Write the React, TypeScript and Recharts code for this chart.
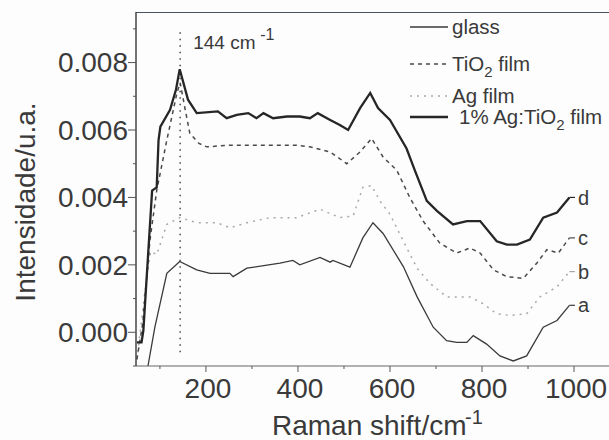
import {
  LineChart,
  Line,
  XAxis,
  YAxis,
  Legend,
  ReferenceLine,
  ReferenceDot,
} from "recharts";

// intensities are read in units of 0.001 (a.u.)
const aX = [74, 89, 115, 143, 180, 209, 252, 259, 289, 361, 389, 404, 448, 470, 476, 513, 541, 563, 585, 629, 659, 694, 723, 745, 767, 781, 810, 839, 868, 897, 933, 963, 990];
const aY = [-1.0, 0.15, 1.75, 2.1, 1.85, 1.75, 1.75, 1.65, 1.9, 2.05, 2.13, 2.0, 2.22, 2.08, 2.13, 1.93, 2.8, 3.25, 2.93, 1.95, 1.05, 0.15, -0.25, -0.3, -0.3, -0.1, -0.35, -0.7, -0.85, -0.7, 0.15, 0.35, 0.8];

const bX = [50, 70, 80, 93, 115, 143, 180, 224, 252, 289, 339, 397, 448, 491, 520, 541, 560, 578, 600, 629, 659, 687, 723, 774, 802, 832, 861, 897, 926, 963, 990];
const bY = [-0.8, 1.5, 2.4, 2.3, 3.2, 3.4, 3.25, 3.25, 3.1, 3.25, 3.4, 3.4, 3.65, 3.4, 3.45, 4.3, 4.35, 3.9, 3.5, 2.7, 1.9, 1.45, 1.05, 1.05, 0.85, 0.55, 0.5, 0.55, 1.05, 1.35, 1.8];

const cX = [50, 63, 78, 93, 115, 137, 144, 155, 165, 185, 202, 252, 325, 397, 426, 470, 506, 535, 560, 585, 615, 643, 672, 708, 745, 774, 796, 825, 854, 890, 919, 941, 966, 990];
const cY = [-0.8, 0.3, 2.7, 4.2, 5.7, 7.1, 7.4, 6.6, 5.9, 5.6, 5.5, 5.55, 5.55, 5.55, 5.5, 5.35, 5.0, 5.35, 5.75, 5.2, 4.8, 4.0, 3.3, 2.65, 2.35, 2.5, 2.35, 1.85, 1.65, 1.6, 2.05, 2.45, 2.35, 2.8];

const dX = [50, 60, 64, 83, 93, 97, 101, 122, 135, 143, 161, 180, 226, 245, 267, 292, 310, 325, 346, 376, 404, 426, 443, 470, 491, 509, 535, 557, 574, 600, 636, 654, 680, 702, 737, 767, 796, 832, 854, 876, 904, 933, 963, 990];
const dY = [-0.3, -0.3, 0.05, 4.2, 4.3, 5.7, 6.1, 6.6, 7.2, 7.8, 6.9, 6.5, 6.55, 6.35, 6.45, 6.5, 6.35, 6.5, 6.35, 6.4, 6.4, 6.35, 6.5, 6.3, 6.15, 6.0, 6.65, 7.1, 6.65, 6.3, 5.45, 4.8, 3.9, 3.6, 3.2, 3.3, 3.3, 2.7, 2.6, 2.6, 2.75, 3.4, 3.55, 4.0];

const X_TICKS = [100, 200, 300, 400, 500, 600, 700, 800, 900, 1000];
const Y_TICKS = [-1, 0, 1, 2, 3, 4, 5, 6, 7, 8, 9];
const X_DOMAIN: [number, number] = [48, 1076];
const Y_DOMAIN: [number, number] = [-1, 9.5];
const PEAK = 144;

const zip = (xs: number[], ys: number[]) => xs.map((x, i) => ({ x, y: ys[i] }));

const SERIES = [
  { key: "a", name: "glass", data: zip(aX, aY), stroke: "#3a3a3a", width: 1.3, dash: undefined as string | undefined },
  { key: "b", name: "Ag film", data: zip(bX, bY), stroke: "#a8a8a8", width: 1.5, dash: "2 5" },
  { key: "c", name: "TiO2 film", data: zip(cX, cY), stroke: "#4a4a4a", width: 1.5, dash: "4 4" },
  { key: "d", name: "1% Ag:TiO2 film", data: zip(dX, dY), stroke: "#262626", width: 2.3, dash: undefined },
];

const FONT = "'Liberation Sans', Arial, sans-serif";
const INK = "#3a3a3a";

function XTick({ x, y, payload }: any) {
  const v = payload.value;
  const major = v % 200 === 0;
  return (
    <g>
      <line x1={x} x2={x} y1={y} y2={y + (major ? 6 : 3)} stroke="#555" />
      {major && (
        <text x={x + 2} y={y + 12} dy="0.71em" textAnchor="middle" fontSize={28} fontFamily={FONT} fill={INK}>
          {v}
        </text>
      )}
    </g>
  );
}

function YTick({ x, y, payload }: any) {
  const v = payload.value;
  const major = v % 2 === 0;
  return (
    <g>
      <line x1={x} x2={x - (major ? 8 : 3)} y1={y} y2={y} stroke="#555" />
      {major && (
        <text x={x - 8} y={y} dy="0.35em" textAnchor="end" fontSize={28} fontFamily={FONT} fill={INK}>
          {(v * 0.001).toFixed(3)}
        </text>
      )}
    </g>
  );
}

function YLabel({ viewBox }: any) {
  const cx = viewBox.x + 25;
  const cy = viewBox.y + viewBox.height / 2 + 13;
  return (
    <text x={cx} y={cy} transform={`rotate(-90 ${cx} ${cy})`} textAnchor="middle" dy="0.35em" fontSize={28} fontFamily={FONT} fill={INK}>
      Intensidade/u.a.
    </text>
  );
}

function XLabel({ viewBox }: any) {
  const x0 = viewBox.x + 136;
  const base = viewBox.y + 69;
  return (
    <text fontFamily={FONT} fill={INK}>
      <tspan x={x0} y={base} fontSize={28}>Raman shift/cm</tspan>
      <tspan x={x0 + 193} y={base - 11} fontSize={20}>-1</tspan>
    </text>
  );
}

const LEGEND_ROWS = [
  { key: "a", y: 19, tx: 52 },
  { key: "c", y: 56, tx: 52 },
  { key: "b", y: 88, tx: 52 },
  { key: "d", y: 109, tx: 59 },
];

function LegendBox() {
  return (
    <svg width={209} height={125} style={{ display: "block" }}>
      {LEGEND_ROWS.map((r) => {
        const s = SERIES.find((q) => q.key === r.key)!;
        const parts = s.name.split("TiO2");
        return (
          <g key={r.key}>
            <line x1={10} x2={48} y1={r.y} y2={r.y} stroke={s.stroke} strokeWidth={s.width} strokeDasharray={s.dash} />
            <text x={r.tx} y={r.y} dy="0.35em" fontSize={20.5} fontFamily={FONT} fill={INK}>
              {parts.length > 1 ? (
                <>
                  {parts[0]}TiO
                  <tspan dy={6} fontSize={15}>2</tspan>
                  <tspan dy={-6}>{parts[1]}</tspan>
                </>
              ) : (
                s.name
              )}
            </text>
          </g>
        );
      })}
    </svg>
  );
}

export default function App() {
  return (
    <div style={{ position: "absolute", left: 0, top: 0, width: 609, height: 440, background: "#fdfdfd" }}>
      {/* top frame line of the plot box */}
      <div style={{ position: "absolute", left: 136, top: 12, width: 473, borderTop: "1.5px solid #4a5260" }} />
      <LineChart width={609} height={440} margin={{ top: 12, right: 0, bottom: 0, left: 0 }}>
        <XAxis
          type="number"
          dataKey="x"
          domain={X_DOMAIN}
          allowDataOverflow
          ticks={X_TICKS}
          interval={0}
          height={74}
          tickSize={0}
          tickMargin={0}
          tickLine={false}
          tick={<XTick />}
          axisLine={{ stroke: "#666", strokeWidth: 1.2 }}
          label={<XLabel />}
        />
        <YAxis
          type="number"
          domain={Y_DOMAIN}
          allowDataOverflow
          ticks={Y_TICKS}
          interval={0}
          width={136}
          tickSize={0}
          tickMargin={0}
          tickLine={false}
          tick={<YTick />}
          axisLine={{ stroke: "#444", strokeWidth: 1.5 }}
          label={<YLabel />}
        />
        <ReferenceLine
          segment={[
            { x: PEAK, y: 8.9 },
            { x: PEAK, y: -0.62 },
          ]}
          stroke="#555"
          strokeWidth={1.6}
          strokeDasharray="1.5 5"
          label={{
            position: "insideTopLeft",
            content: ({ viewBox }: any) => (
              <text fontFamily={FONT} fill={INK}>
                <tspan x={viewBox.x + 13} y={viewBox.y + 17} fontSize={19}>144 cm</tspan>
                <tspan x={viewBox.x + 80} y={viewBox.y + 8} fontSize={16}>-1</tspan>
              </text>
            ),
          }}
        />
        {SERIES.map((s) => (
          <Line
            key={s.key}
            data={s.data}
            dataKey="y"
            type="linear"
            stroke={s.stroke}
            strokeWidth={s.width}
            strokeDasharray={s.dash}
            dot={false}
            activeDot={false}
            isAnimationActive={false}
          />
        ))}
        {SERIES.map((s) => {
          const last = s.data[s.data.length - 1];
          return (
            <ReferenceLine
              key={"l" + s.key}
              segment={[
                { x: last.x, y: last.y },
                { x: last.x + 12, y: last.y },
              ]}
              stroke={s.stroke}
              strokeWidth={1.2}
            />
          );
        })}
        {SERIES.map((s) => {
          const last = s.data[s.data.length - 1];
          return (
            <ReferenceDot
              key={"t" + s.key}
              x={last.x + 12}
              y={last.y}
              r={0}
              stroke="none"
              label={{ value: s.key, position: "right", offset: 3, fontSize: 20, fontFamily: FONT, fill: INK }}
            />
          );
        })}
        <Legend
          layout="horizontal"
          verticalAlign="middle"
          align="center"
          wrapperStyle={{ position: "absolute", left: 400, top: 8, width: 209, height: 125 }}
          content={() => <LegendBox />}
        />
      </LineChart>
    </div>
  );
}
